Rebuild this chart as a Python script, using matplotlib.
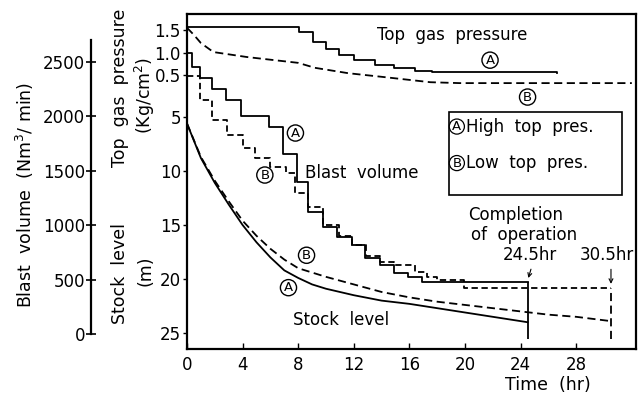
import matplotlib
matplotlib.use("Agg")
import matplotlib.pyplot as plt
from matplotlib.patches import Rectangle

plt.rcParams['font.family'] = ['DejaVu Sans']

# Top gas pressure (kg/cm2)
t_pres_a = [0, 8.07, 9.1, 10.0, 10.9, 12.0, 13.5, 14.9, 16.4, 17.6, 26.6]
pres_a = [1.56, 1.46, 1.23, 1.08, 0.94, 0.83, 0.72, 0.66, 0.59, 0.56, 0.55]
t_pres_b = [0, 0.5, 1.0, 1.9, 4.3, 8.0, 9.2, 11.6, 14.0, 17.5, 19.6, 32.0]
pres_b = [1.55, 1.39, 1.21, 1.01, 0.90, 0.77, 0.66, 0.54, 0.46, 0.34, 0.32, 0.32]

# Blast volume (Nm3/min), stepwise
t_blast_a = [0, 0.36, 0.95, 1.8, 2.8, 3.9, 5.9, 6.9, 7.9, 8.7, 9.8, 10.8, 11.9,
             12.8, 13.9, 14.9, 15.9, 16.9, 24.5]
blast_a = [2580, 2450, 2350, 2250, 2150, 2000, 1900, 1650, 1400, 1120, 980, 890,
           820, 700, 635, 560, 525, 480, 480]
t_blast_b = [0, 0.9, 1.8, 2.9, 4.0, 4.9, 6.0, 7.1, 7.8, 8.7, 9.8, 10.9, 11.9,
             12.9, 13.9, 14.9, 16.4, 17.3, 18.0, 19.9, 30.5]
blast_b = [2370, 2150, 1970, 1830, 1710, 1620, 1535, 1480, 1300, 1170, 1000, 900,
           820, 720, 660, 635, 570, 525, 495, 425, 425]

# Stock level (m)
t_stock_a = [0, 1, 2, 3, 4, 5, 6, 7, 8, 9, 10, 12, 14, 16, 18, 20, 22, 24.5]
stock_a = [5.6, 8.8, 11.1, 13.1, 15.0, 16.6, 18.0, 19.2, 19.9, 20.5, 20.9, 21.5,
           22.0, 22.3, 22.7, 23.1, 23.5, 24.0]
t_stock_b = [0, 1, 2, 3, 4, 5, 6, 7, 8, 9, 10, 12, 14, 16, 18, 20, 22, 24, 26, 28, 30.5]
stock_b = [5.6, 8.7, 10.9, 12.8, 14.6, 16.0, 17.2, 18.2, 19.0, 19.4, 19.8, 20.5,
           21.2, 21.7, 22.1, 22.4, 22.7, 23.0, 23.3, 23.5, 23.9]

# completion of operation
end_a = 24.5
end_b = 30.5
line_floor = -45

x_ticks = [0, 4, 8, 12, 16, 20, 24, 28]
stock_ticks = [5, 10, 15, 20, 25]
pres_ticks = [0.5, 1.0, 1.5]
blast_ticks = [0, 500, 1000, 1500, 2000, 2500]

fig = plt.figure(figsize=(6.43, 3.94), dpi=100)
ax = fig.add_axes([187 / 643, 1 - 349 / 394, 449 / 643, 335 / 394])
ax_p = ax.twinx()
ax_v = ax.twinx()

lw = 1.3
dash = (0, (4.5, 2.5))

ax.set_xlim(0, 32.3)
ax.set_ylim(26.48, -4.54)
ax_p.set_ylim(-5.59, 1.856)
ax_v.set_ylim(-138, 2941)

# pressure
ax_p.plot(t_pres_a, pres_a, color='black', lw=lw, drawstyle='steps-post')
ax_p.plot(t_pres_b, pres_b, color='black', lw=lw, ls=dash)

# blast volume
ax_v.plot(t_blast_a, blast_a, color='black', lw=lw, drawstyle='steps-post')
ax_v.plot(t_blast_b, blast_b, color='black', lw=lw, ls=(0, (3.5, 2)), drawstyle='steps-post')
ax_v.vlines(end_a, line_floor, blast_a[-1], color='black', lw=lw)
ax_v.vlines(end_b, line_floor, blast_b[-1], color='black', lw=lw, ls=dash)

# stock level
ax.plot(t_stock_a, stock_a, color='black', lw=lw)
ax.plot(t_stock_b, stock_b, color='black', lw=lw, ls=dash)

# axes styling
for s in ax.spines.values():
    s.set_linewidth(1.6)
for a in (ax_p, ax_v):
    for s in a.spines.values():
        s.set_visible(False)

ax.set_xticks(x_ticks)
ax.tick_params(axis='x', direction='in', length=4, width=1, pad=5, labelsize=12)
ax.set_yticks(stock_ticks)
ax.tick_params(axis='y', direction='out', length=3, width=1, pad=1.5, labelsize=12)

ax_p.yaxis.set_ticks_position('left')
ax_p.set_yticks(pres_ticks)
ax_p.set_yticklabels(['0.5', '1.0', '1.5'])
ax_p.tick_params(axis='y', direction='out', length=3, width=1, pad=1.5, labelsize=12)

ax_v.yaxis.set_ticks_position('left')
ax_v.spines['left'].set_visible(True)
ax_v.spines['left'].set_position(('outward', 69))
ax_v.spines['left'].set_linewidth(1.6)
ax_v.spines['left'].set_bounds(0, 2700)
ax_v.set_yticks(blast_ticks)
ax_v.tick_params(axis='y', direction='inout', length=7, width=1.2, pad=1, labelsize=12)

# curve labels
circ = dict(boxstyle='circle,pad=0.12', fc='white', ec='black', lw=1)
ax_p.text(13.7, 1.39, 'Top  gas  pressure', fontsize=12, ha='left', va='center')
ax_p.text(21.8, 0.83, 'A', fontsize=9.5, ha='center', va='center', bbox=circ)
ax_p.text(24.5, 0.01, 'B', fontsize=9.5, ha='center', va='center', bbox=circ)

ax_v.text(7.8, 1847, 'A', fontsize=9.5, ha='center', va='center', bbox=circ)
ax_v.text(5.6, 1461, 'B', fontsize=9.5, ha='center', va='center', bbox=circ)
ax_v.text(8.5, 1480, 'Blast  volume', fontsize=12, ha='left', va='center')

ax.text(8.6, 17.8, 'B', fontsize=9.5, ha='center', va='center', bbox=circ)
ax.text(7.3, 20.8, 'A', fontsize=9.5, ha='center', va='center', bbox=circ)
ax.text(7.6, 23.8, 'Stock  level', fontsize=12, ha='left', va='center')

# legend box
ax.add_patch(Rectangle((0.5835, 0.4597), 0.3855, 0.2478, transform=ax.transAxes,
                       fill=False, ec='black', lw=1.2))
circ_small = dict(boxstyle='circle,pad=0.08', fc='white', ec='black', lw=0.9)
ax.text(0.601, 0.664, 'A', fontsize=9.5, ha='center', va='center',
        transform=ax.transAxes, bbox=circ_small)
ax.text(0.622, 0.664, 'High  top  pres.', fontsize=12, ha='left', va='center',
        transform=ax.transAxes)
ax.text(0.601, 0.555, 'B', fontsize=9.5, ha='center', va='center',
        transform=ax.transAxes, bbox=circ_small)
ax.text(0.622, 0.555, 'Low  top  pres.', fontsize=12, ha='left', va='center',
        transform=ax.transAxes)

# completion notes
ax_v.text(20.2, 1094, 'Completion', fontsize=12, ha='left', va='center')
ax_v.text(20.4, 910, 'of  operation', fontsize=12, ha='left', va='center')
ax_v.text(24.7, 726, '24.5hr', fontsize=12, ha='center', va='center')
ax_v.text(30.2, 726, '30.5hr', fontsize=12, ha='center', va='center')
arrow = dict(arrowstyle='->', lw=0.8, color='black', mutation_scale=7)
ax_v.annotate('', xy=(end_a, blast_a[-1] + 10), xytext=(end_a + 0.3, 620), arrowprops=arrow)
ax_v.annotate('', xy=(end_b, blast_b[-1] + 10), xytext=(end_b, 620), arrowprops=arrow)

# axis titles
fig.text(548 / 643, 1 - 385 / 394, 'Time  (hr)', fontsize=12.5, ha='center', va='center')
fig.text(25 / 643, 1 - 195 / 394, 'Blast  volume  (Nm$^3$/ min)', fontsize=12.5,
         rotation=90, ha='center', va='center')
fig.text(120 / 643, 1 - 88 / 394, 'Top  gas  pressure', fontsize=12.5,
         rotation=90, ha='center', va='center')
fig.text(145 / 643, 1 - 95 / 394, '(Kg/cm$^2$)', fontsize=12.5,
         rotation=90, ha='center', va='center')
fig.text(120 / 643, 1 - 273 / 394, 'Stock  level', fontsize=12.5,
         rotation=90, ha='center', va='center')
fig.text(145 / 643, 1 - 271 / 394, '(m)', fontsize=12.5,
         rotation=90, ha='center', va='center')

fig.savefig('out.png', dpi=100)
